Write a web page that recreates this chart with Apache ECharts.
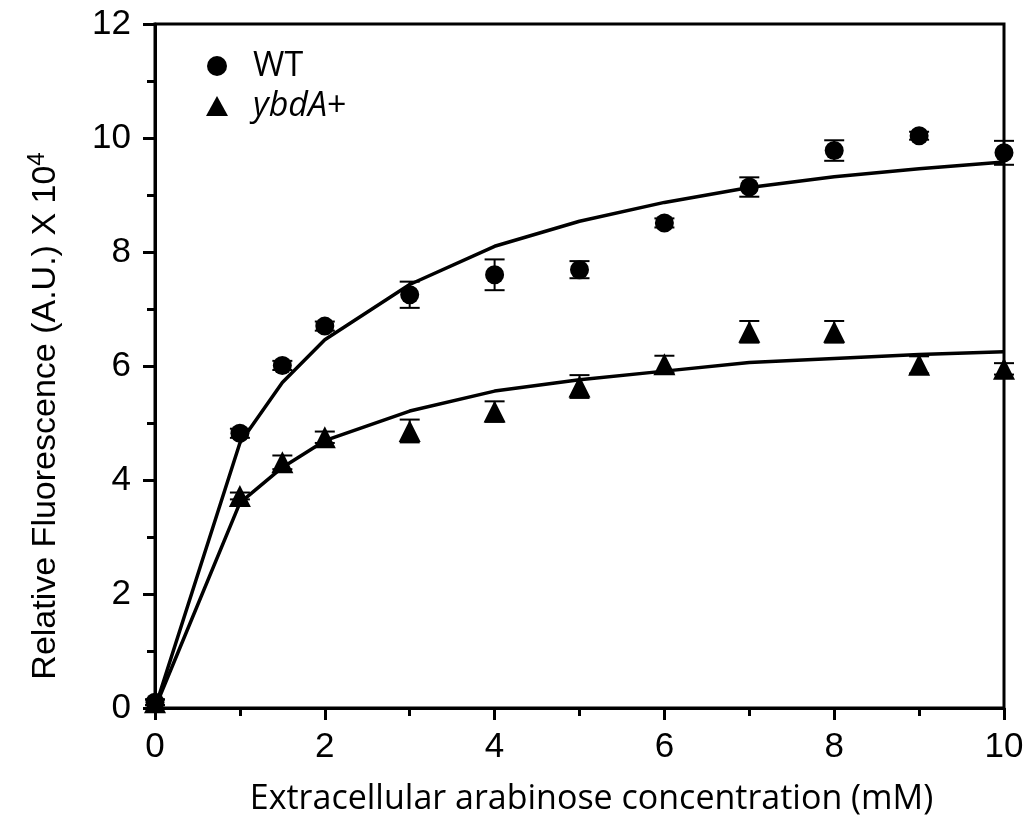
<!DOCTYPE html>
<html>
<head>
<meta charset="utf-8">
<script src="https://cdn.jsdelivr.net/npm/echarts@6/dist/echarts.min.js"></script>
<style>html,body{margin:0;padding:0;background:#fff;}#c{width:1028px;height:821px;}</style>
</head>
<body>
<div id="c"></div>
<script>
var xValues = [0, 1, 1.5, 2, 3, 4, 5, 6, 7, 8, 9, 10];
var wtMean = [0.1, 4.82, 6.01, 6.70, 7.25, 7.60, 7.69, 8.51, 9.14, 9.78, 10.04, 9.74];
var wtErr = [0.05, 0.08, 0.08, 0.08, 0.23, 0.27, 0.15, 0.08, 0.17, 0.18, 0.07, 0.21];
var ybdMean = [0.1, 3.72, 4.31, 4.75, 4.86, 5.20, 5.64, 6.03, 6.60, 6.60, 6.02, 5.95];
var ybdErr = [0.05, 0.06, 0.12, 0.10, 0.20, 0.18, 0.20, 0.15, 0.19, 0.19, 0.15, 0.10];
var wtFit = [0, 4.65, 5.71, 6.46, 7.43, 8.10, 8.54, 8.87, 9.13, 9.32, 9.46, 9.58];
var ybdFit = [0, 3.60, 4.22, 4.69, 5.21, 5.56, 5.76, 5.91, 6.06, 6.13, 6.20, 6.25];
var yTicks = ['0', '2', '4', '6', '8', '10', '12'];
var xTicks = ['0', '2', '4', '6', '8', '10'];

function pairs(ys) { return xValues.map(function (x, i) { return [x, ys[i]]; }); }
function errData(m, e) { return xValues.map(function (x, i) { return [x, m[i] - e[i], m[i] + e[i]]; }); }

function errRender(params, api) {
  var x = api.value(0);
  var lo = api.coord([x, api.value(1)]);
  var hi = api.coord([x, api.value(2)]);
  var w = 10;
  var st = { stroke: '#000', lineWidth: 2 };
  return {
    type: 'group',
    children: [
      { type: 'line', shape: { x1: lo[0], y1: lo[1], x2: hi[0], y2: hi[1] }, style: st },
      { type: 'line', shape: { x1: lo[0] - w, y1: lo[1], x2: lo[0] + w, y2: lo[1] }, style: st },
      { type: 'line', shape: { x1: hi[0] - w, y1: hi[1], x2: hi[0] + w, y2: hi[1] }, style: st }
    ]
  };
}

var chart = echarts.init(document.getElementById('c'));
var font = '"Liberation Sans", Arial, sans-serif';
var sans2 = '"Open Sans", "Noto Sans", sans-serif';
chart.setOption({
  animation: false,
  backgroundColor: '#fff',
  grid: { left: 155, right: 24, top: 24, bottom: 112, show: true, borderColor: '#000', borderWidth: 3, backgroundColor: 'transparent' },
  legend: {
    orient: 'vertical', left: 201, top: 44, itemWidth: 22, itemHeight: 20, itemGap: 6,
    data: [{ name: 'WT', icon: 'circle' }, { name: 'ybdA+', icon: 'triangle' }],
    itemStyle: { color: '#000', opacity: 1 },
    formatter: function (n) { return n === 'ybdA+' ? '{i|ybdA}{n|+}' : '{n|' + n + '}'; },
    textStyle: {
      color: '#000', padding: [0, 0, 0, 20],
      rich: {
        i: { fontStyle: 'italic', fontSize: 34, fontFamily: sans2, color: '#000' },
        n: { fontSize: 34, fontFamily: sans2, color: '#000' }
      }
    }
  },
  xAxis: {
    type: 'value', min: 0, max: 10, interval: 2,
    name: 'Extracellular arabinose concentration (mM)', nameLocation: 'middle', nameGap: 74,
    nameTextStyle: { fontSize: 34, fontFamily: sans2, color: '#000', padding: [0, 0, 0, 24] },
    axisLine: { show: true, onZero: false, lineStyle: { color: '#000', width: 3 } },
    axisTick: { show: true, length: 12, lineStyle: { color: '#000', width: 3 } },
    minorTick: { show: true, splitNumber: 2, length: 8, lineStyle: { color: '#000', width: 3 } },
    axisLabel: { margin: 22, fontSize: 35, fontFamily: font, color: '#000',
      formatter: function (v) { var s = String(v); return xTicks.indexOf(s) >= 0 ? s : ''; } },
    splitLine: { show: false }
  },
  yAxis: {
    type: 'value', min: 0, max: 12, interval: 2,
    name: 'Relative Fluorescence (A.U.) X 10{sup|4}', nameLocation: 'middle', nameGap: 88,
    nameTextStyle: { fontSize: 34, fontFamily: font, color: '#000', padding: [0, 100, 0, 0],
      rich: { sup: { fontSize: 24, verticalAlign: 'bottom', padding: [0, 0, 18, 0], fontFamily: font, color: '#000' } } },
    axisLine: { show: true, onZero: false, lineStyle: { color: '#000', width: 3 } },
    axisTick: { show: true, length: 12, lineStyle: { color: '#000', width: 3 } },
    minorTick: { show: true, splitNumber: 2, length: 8, lineStyle: { color: '#000', width: 3 } },
    axisLabel: { margin: 24, fontSize: 35, fontFamily: font, color: '#000',
      formatter: function (v) { var s = String(v); return yTicks.indexOf(s) >= 0 ? s : ''; } },
    splitLine: { show: false }
  },
  series: [
    { name: 'WT', type: 'scatter', data: pairs(wtMean), symbol: 'circle', symbolSize: 19, itemStyle: { color: '#000', opacity: 1 }, z: 3 },
    { name: 'ybdA+', type: 'scatter', data: pairs(ybdMean), symbol: 'triangle', symbolSize: 22, itemStyle: { color: '#000', opacity: 1 }, z: 3 },
    { name: 'wtErr', type: 'custom', data: errData(wtMean, wtErr), renderItem: errRender, z: 2, encode: { x: 0, y: [1, 2] } },
    { name: 'ybdErr', type: 'custom', data: errData(ybdMean, ybdErr), renderItem: errRender, z: 2, encode: { x: 0, y: [1, 2] } },
    { name: 'wtFit', type: 'line', data: pairs(wtFit), showSymbol: false, symbol: 'none', lineStyle: { color: '#000', width: 3.5 }, z: 4 },
    { name: 'ybdFit', type: 'line', data: pairs(ybdFit), showSymbol: false, symbol: 'none', lineStyle: { color: '#000', width: 3.5 }, z: 4 }
  ]
});
</script>
</body>
</html>
